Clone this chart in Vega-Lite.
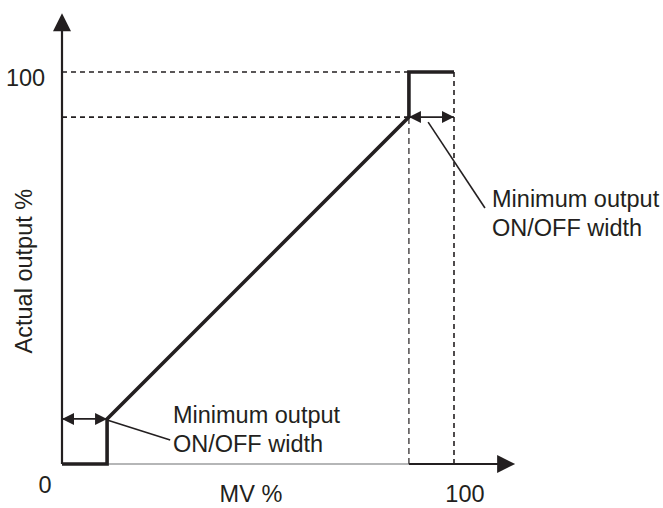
{
  "$schema": "https://vega.github.io/schema/vega-lite/v6.json",
  "width": 663,
  "height": 508,
  "autosize": "none",
  "padding": 0,
  "background": "white",
  "config": {"view": {"stroke": null}},
  "datasets": {
    "segs": [
      {"kind": "axis", "x": 0, "y": 0, "x2": 0, "y2": 111},
      {"kind": "faint", "x": 11.5, "y": 0, "x2": 88.5, "y2": 0},
      {"kind": "axis", "x": 88.5, "y": 0, "x2": 111.5, "y2": 0},
      {"kind": "dash", "x": 0, "y": 100, "x2": 88.5, "y2": 100},
      {"kind": "dash", "x": 0, "y": 88.5, "x2": 88.5, "y2": 88.5},
      {"kind": "dashthin", "x": 88.5, "y": 0, "x2": 88.5, "y2": 88.5},
      {"kind": "dash", "x": 100, "y": 0, "x2": 100, "y2": 100},
      {"kind": "thin", "x": 0, "y": 11.5, "x2": 11.5, "y2": 11.5},
      {"kind": "thin", "x": 88.5, "y": 88.5, "x2": 100, "y2": 88.5},
      {"kind": "thin", "x": 11.5, "y": 11.2, "x2": 27.6, "y2": 6.1},
      {"kind": "thin", "x": 93.4, "y": 87.2, "x2": 107.9, "y2": 65.3}
    ],
    "curve": [
      {"i": 1, "x": 0, "y": 0},
      {"i": 2, "x": 11.5, "y": 0},
      {"i": 3, "x": 11.5, "y": 11.5},
      {"i": 4, "x": 88.5, "y": 88.5},
      {"i": 5, "x": 88.5, "y": 100},
      {"i": 6, "x": 100, "y": 100}
    ],
    "axisHeads": [
      {"dir": "up", "x": 0, "y": 115},
      {"dir": "right", "x": 115.6, "y": 0}
    ],
    "dimHeads": [
      {"dir": "left", "x": 0, "y": 11.5},
      {"dir": "right", "x": 11.5, "y": 11.5},
      {"dir": "left", "x": 88.5, "y": 88.5},
      {"dir": "right", "x": 100, "y": 88.5}
    ],
    "labels": [
      {"g": "right", "t": "100", "x": -4.3, "y": 96.4},
      {"g": "center", "t": "0", "x": -4.3, "y": -7.4},
      {"g": "center", "t": "MV %", "x": 48.2, "y": -9.8},
      {"g": "center", "t": "100", "x": 102.8, "y": -9.8},
      {"g": "rot", "t": "Actual output %", "x": -7.65, "y": 49.2},
      {"g": "note", "t": "Minimum output\nON/OFF width", "x": 28.3, "y": 10.4},
      {"g": "note", "t": "Minimum output\nON/OFF width", "x": 109.7, "y": 65.5}
    ]
  },
  "layer": [
    {
      "data": {"name": "segs"},
      "transform": [{"filter": "datum.kind === 'dash'"}],
      "mark": {"type": "rule", "color": "#231f20", "strokeWidth": 1.6, "strokeDash": [5, 4]},
      "encoding": {
        "x": {"field": "x", "type": "quantitative", "scale": {"domain": [-15.816, 153.316], "nice": false, "zero": false}, "axis": null},
        "y": {"field": "y", "type": "quantitative", "scale": {"domain": [-11.224, 118.367], "nice": false, "zero": false}, "axis": null},
        "x2": {"field": "x2"},
        "y2": {"field": "y2"}
      }
    },
    {
      "data": {"name": "segs"},
      "transform": [{"filter": "datum.kind === 'dashthin'"}],
      "mark": {"type": "rule", "color": "#231f20", "strokeWidth": 1.2, "strokeDash": [6, 4]},
      "encoding": {
        "x": {"field": "x", "type": "quantitative", "scale": {"domain": [-15.816, 153.316], "nice": false, "zero": false}, "axis": null},
        "y": {"field": "y", "type": "quantitative", "scale": {"domain": [-11.224, 118.367], "nice": false, "zero": false}, "axis": null},
        "x2": {"field": "x2"},
        "y2": {"field": "y2"}
      }
    },
    {
      "data": {"name": "segs"},
      "transform": [{"filter": "datum.kind === 'faint'"}],
      "mark": {"type": "rule", "color": "#6d6e71", "strokeWidth": 1.2},
      "encoding": {
        "x": {"field": "x", "type": "quantitative", "scale": {"domain": [-15.816, 153.316], "nice": false, "zero": false}, "axis": null},
        "y": {"field": "y", "type": "quantitative", "scale": {"domain": [-11.224, 118.367], "nice": false, "zero": false}, "axis": null},
        "x2": {"field": "x2"},
        "y2": {"field": "y2"}
      }
    },
    {
      "data": {"name": "segs"},
      "transform": [{"filter": "datum.kind === 'axis'"}],
      "mark": {"type": "rule", "color": "#231f20", "strokeWidth": 2.2},
      "encoding": {
        "x": {"field": "x", "type": "quantitative", "scale": {"domain": [-15.816, 153.316], "nice": false, "zero": false}, "axis": null},
        "y": {"field": "y", "type": "quantitative", "scale": {"domain": [-11.224, 118.367], "nice": false, "zero": false}, "axis": null},
        "x2": {"field": "x2"},
        "y2": {"field": "y2"}
      }
    },
    {
      "data": {"name": "segs"},
      "transform": [{"filter": "datum.kind === 'thin'"}],
      "mark": {"type": "rule", "color": "#231f20", "strokeWidth": 1.6},
      "encoding": {
        "x": {"field": "x", "type": "quantitative", "scale": {"domain": [-15.816, 153.316], "nice": false, "zero": false}, "axis": null},
        "y": {"field": "y", "type": "quantitative", "scale": {"domain": [-11.224, 118.367], "nice": false, "zero": false}, "axis": null},
        "x2": {"field": "x2"},
        "y2": {"field": "y2"}
      }
    },
    {
      "data": {"name": "curve"},
      "mark": {"type": "line", "color": "#231f20", "strokeWidth": 3.6, "strokeJoin": "miter", "strokeCap": "butt"},
      "encoding": {
        "x": {"field": "x", "type": "quantitative", "scale": {"domain": [-15.816, 153.316], "nice": false, "zero": false}, "axis": null},
        "y": {"field": "y", "type": "quantitative", "scale": {"domain": [-11.224, 118.367], "nice": false, "zero": false}, "axis": null},
        "order": {"field": "i", "type": "quantitative"}
      }
    },
    {
      "data": {"name": "axisHeads"},
      "mark": {"type": "point", "filled": true, "opacity": 1, "color": "#231f20", "strokeWidth": 0, "size": 324},
      "encoding": {
        "x": {"field": "x", "type": "quantitative", "scale": {"domain": [-15.816, 153.316], "nice": false, "zero": false}, "axis": null},
        "y": {"field": "y", "type": "quantitative", "scale": {"domain": [-11.224, 118.367], "nice": false, "zero": false}, "axis": null},
        "shape": {"field": "dir", "type": "nominal", "legend": null, "scale": {"domain": ["up", "right", "left"], "range": ["M0,0L-1,2L1,2Z", "M0,0L-2,-1L-2,1Z", "M0,0L2,-1L2,1Z"]}}
      }
    },
    {
      "data": {"name": "dimHeads"},
      "mark": {"type": "point", "filled": true, "opacity": 1, "color": "#231f20", "strokeWidth": 0, "size": 144},
      "encoding": {
        "x": {"field": "x", "type": "quantitative", "scale": {"domain": [-15.816, 153.316], "nice": false, "zero": false}, "axis": null},
        "y": {"field": "y", "type": "quantitative", "scale": {"domain": [-11.224, 118.367], "nice": false, "zero": false}, "axis": null},
        "shape": {"field": "dir", "type": "nominal", "legend": null, "scale": {"domain": ["up", "right", "left"], "range": ["M0,0L-1,3L1,3Z", "M0,0L-3,-1L-3,1Z", "M0,0L3,-1L3,1Z"]}}
      }
    },
    {
      "data": {"name": "labels"},
      "transform": [{"filter": "datum.g === 'right'"}],
      "mark": {"type": "text", "font": "Liberation Sans", "fontSize": 23.5, "color": "#231f20", "align": "right", "baseline": "alphabetic"},
      "encoding": {
        "x": {"field": "x", "type": "quantitative", "scale": {"domain": [-15.816, 153.316], "nice": false, "zero": false}, "axis": null},
        "y": {"field": "y", "type": "quantitative", "scale": {"domain": [-11.224, 118.367], "nice": false, "zero": false}, "axis": null},
        "text": {"field": "t"}
      }
    },
    {
      "data": {"name": "labels"},
      "transform": [{"filter": "datum.g === 'center'"}],
      "mark": {"type": "text", "font": "Liberation Sans", "fontSize": 23.5, "color": "#231f20", "align": "center", "baseline": "alphabetic"},
      "encoding": {
        "x": {"field": "x", "type": "quantitative", "scale": {"domain": [-15.816, 153.316], "nice": false, "zero": false}, "axis": null},
        "y": {"field": "y", "type": "quantitative", "scale": {"domain": [-11.224, 118.367], "nice": false, "zero": false}, "axis": null},
        "text": {"field": "t"}
      }
    },
    {
      "data": {"name": "labels"},
      "transform": [{"filter": "datum.g === 'rot'"}],
      "mark": {"type": "text", "font": "Liberation Sans", "fontSize": 23.5, "color": "#231f20", "align": "center", "baseline": "alphabetic", "angle": 270},
      "encoding": {
        "x": {"field": "x", "type": "quantitative", "scale": {"domain": [-15.816, 153.316], "nice": false, "zero": false}, "axis": null},
        "y": {"field": "y", "type": "quantitative", "scale": {"domain": [-11.224, 118.367], "nice": false, "zero": false}, "axis": null},
        "text": {"field": "t"}
      }
    },
    {
      "data": {"name": "labels"},
      "transform": [{"filter": "datum.g === 'note'"}],
      "mark": {"type": "text", "font": "Liberation Sans", "fontSize": 23.5, "color": "#231f20", "align": "left", "baseline": "alphabetic", "lineBreak": "\n", "lineHeight": 29},
      "encoding": {
        "x": {"field": "x", "type": "quantitative", "scale": {"domain": [-15.816, 153.316], "nice": false, "zero": false}, "axis": null},
        "y": {"field": "y", "type": "quantitative", "scale": {"domain": [-11.224, 118.367], "nice": false, "zero": false}, "axis": null},
        "text": {"field": "t"}
      }
    }
  ]
}
